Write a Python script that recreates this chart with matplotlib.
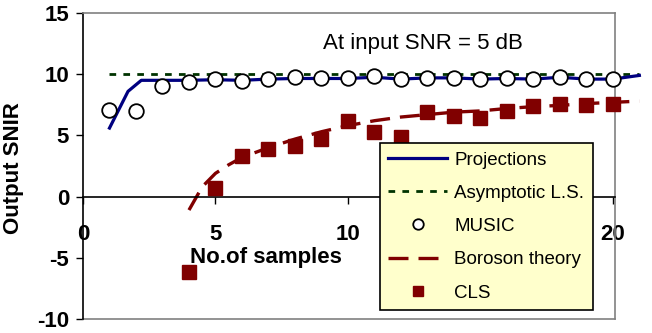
import matplotlib
matplotlib.use("Agg")
import matplotlib.pyplot as plt
from matplotlib.lines import Line2D

plt.rcParams['font.family'] = ['Liberation Sans', 'DejaVu Sans']
plt.rcParams['axes.unicode_minus'] = False

# Data
proj_x = [1, 1.7, 2.2, 3, 4, 5, 6, 7, 8, 9, 10, 11, 12, 13, 14, 15, 16, 17, 18, 19, 20, 21]
proj_y = [5.6, 8.6, 9.5, 9.5, 9.5, 9.55, 9.5, 9.6, 9.65, 9.65, 9.65, 9.75, 9.6, 9.7, 9.7, 9.6, 9.65, 9.6, 9.75, 9.6, 9.6, 9.9]

ls_x = [1, 21]
ls_y = [10, 10]

music_x = list(range(1, 21))
music_y = [7.1, 7.0, 9.0, 9.4, 9.6, 9.45, 9.6, 9.75, 9.7, 9.7, 9.85, 9.6, 9.7, 9.7, 9.6, 9.65, 9.6, 9.75, 9.6, 9.6]

bor_x = [4, 4.5, 5, 5.5, 6, 7, 8, 9, 10, 11, 12, 13, 14, 15, 16, 17, 18, 19, 20, 21]
bor_y = [-1.1, 0.8, 1.9, 2.6, 3.2, 4.0, 4.7, 5.3, 5.8, 6.2, 6.5, 6.7, 6.9, 7.0, 7.2, 7.35, 7.45, 7.6, 7.7, 7.8]

cls_x = list(range(4, 21))
cls_y = [-6.2, 0.7, 3.3, 3.85, 4.1, 4.7, 6.15, 5.3, 4.9, 6.9, 6.6, 6.45, 7.0, 7.4, 7.6, 7.5, 7.6]

xticks = [0, 5, 10, 20]
yticks = [-10, -5, 0, 5, 10, 15]

fig = plt.figure(figsize=(6.52, 3.33), dpi=100)
ax = fig.add_axes([83/652, 1 - 319/333, 532/652, 306/333])
ax.set_xlim(0, 20.08)
ax.set_ylim(-10, 15)

ax.plot(ls_x, ls_y, color='#003300', lw=2.0, dashes=(2.4, 2.6), label='Asymptotic L.S.', clip_on=False, zorder=2)
ax.plot(bor_x, bor_y, color='#800000', lw=2.4, dashes=(6, 3), label='Boroson theory', clip_on=False, zorder=2)
ax.plot(proj_x, proj_y, color='#000080', lw=2.3, label='Projections', clip_on=False, zorder=3)
ax.plot(music_x, music_y, ls='none', marker='o', ms=10.5, mfc='white', mec='black', mew=1.3,
        label='MUSIC', clip_on=False, zorder=4)
ax.plot(cls_x, cls_y, ls='none', marker='s', ms=10, mfc='#800000', mec='#800000',
        label='CLS', clip_on=False, zorder=4)

# spines
ax.spines['left'].set_color('black')
ax.spines['left'].set_linewidth(1.2)
ax.spines['bottom'].set_position(('data', 0))
ax.spines['bottom'].set_color('black')
ax.spines['bottom'].set_linewidth(1.2)
for s in ('top', 'right'):
    ax.spines[s].set_color('#808080')
    ax.spines[s].set_linewidth(1.2)
ax.add_line(Line2D([0, 1], [0, 0], transform=ax.transAxes, color='#808080', lw=1.2, clip_on=False))

ax.set_xticks(xticks)
ax.set_yticks(yticks)
ax.tick_params(axis='x', direction='out', length=5, width=1, pad=15, labelsize=16)
ax.tick_params(axis='y', direction='out', length=5, width=1, pad=5, labelsize=16)
for lab in ax.get_xticklabels() + ax.get_yticklabels():
    lab.set_fontweight('bold')

ax.set_ylabel('Output SNIR', fontsize=16, fontweight='bold')
ax.yaxis.set_label_coords((24 - 83) / 532, (319 - 168) / 306)

ax.text(6.9, -5.0, 'No.of samples', fontsize=16, fontweight='bold', ha='center', va='center')
ax.text(9.05, 12.5, 'At input SNR = 5 dB', fontsize=16, ha='left', va='center')

handles, labels = ax.get_legend_handles_labels()
order = ['Projections', 'Asymptotic L.S.', 'MUSIC', 'Boroson theory', 'CLS']
hmap = dict(zip(labels, handles))
leg = ax.legend([hmap[k] for k in order], order, loc='upper left',
                bbox_to_anchor=((380 - 83) / 532, (319 - 143) / 306),
                fontsize=13.5, frameon=True, fancybox=False, framealpha=1,
                facecolor='#FFFFCC', edgecolor='black', handlelength=3.1,
                handletextpad=0.4, labelspacing=0.86, borderpad=0.45,
                markerscale=0.72, borderaxespad=0)
leg.get_frame().set_linewidth(1.2)
leg.set_zorder(10)

fig.savefig('out.png', dpi=100)
